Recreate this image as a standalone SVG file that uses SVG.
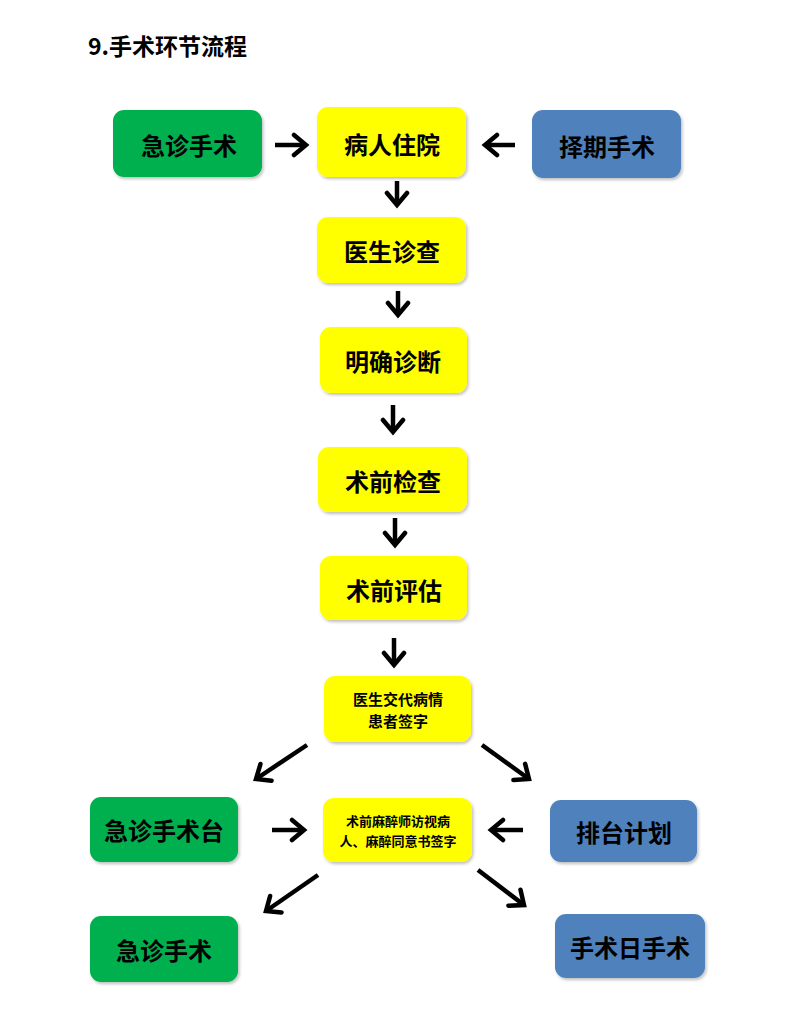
<svg xmlns="http://www.w3.org/2000/svg" width="800" height="1018" viewBox="0 0 800 1018">
<style>
.t{font-family:"Noto Sans CJK SC","Liberation Sans",sans-serif;font-weight:700;fill:#000;text-anchor:middle;dominant-baseline:central}
.big{font-size:24px}
.mid{font-size:15px}
.sm{font-size:13px}
.g{fill:#00B050}
.y{fill:#FFFF00}
.b{fill:#4F81BD}
.box{filter:url(#sh)}
.arr{stroke:#000;stroke-width:4.5;fill:none;marker-end:url(#ah)}
</style>
<defs>
<filter id="sh" x="-10%" y="-10%" width="130%" height="130%">
<feDropShadow dx="1.5" dy="2" stdDeviation="1.5" flood-color="#000" flood-opacity="0.25"/>
</filter>
<marker id="ah" markerUnits="userSpaceOnUse" markerWidth="22" markerHeight="26" viewBox="0 0 22 26" refX="15" refY="13" orient="auto">
<path d="M3,3 L15,13 L3,23" fill="none" stroke="#000" stroke-width="4.5" stroke-linecap="round" stroke-linejoin="miter"/>
</marker>
</defs>
<rect width="800" height="1018" fill="#fff"/>
<text x="88" y="45" style="font-family:'Noto Sans CJK SC','Liberation Sans',sans-serif;font-weight:700;font-size:23px;dominant-baseline:central">9.手术环节流程</text>

<g id="connectors">
<line class="arr" x1="275" y1="145" x2="306" y2="145"/>
<line class="arr" x1="515" y1="145" x2="485" y2="145"/>
<line class="arr" x1="397" y1="181" x2="397" y2="205"/>
<line class="arr" x1="398" y1="291" x2="398" y2="315"/>
<line class="arr" x1="393" y1="405" x2="393" y2="432"/>
<line class="arr" x1="395" y1="518" x2="395" y2="545"/>
<line class="arr" x1="394" y1="638" x2="394" y2="665"/>
<line class="arr" x1="307" y1="745" x2="256" y2="779"/>
<line class="arr" x1="482" y1="745" x2="529" y2="779"/>
<line class="arr" x1="272" y1="830" x2="304" y2="830"/>
<line class="arr" x1="523" y1="830" x2="491" y2="830"/>
<line class="arr" x1="318" y1="875" x2="266" y2="911"/>
<line class="arr" x1="478" y1="870" x2="524" y2="905"/>
</g>

<g id="n_jizhen1"><rect class="box g" x="113" y="110" width="149" height="67" rx="11"/><text class="t big" x="189" y="144">急诊手术</text></g>
<g id="n_zhuyuan"><rect class="box y" x="317" y="107" width="149" height="70" rx="11"/><text class="t big" x="392" y="143">病人住院</text></g>
<g id="n_zeqi"><rect class="box b" x="532" y="110" width="149" height="68" rx="11"/><text class="t big" x="607" y="145">择期手术</text></g>
<g id="n_zhencha"><rect class="box y" x="317" y="217" width="149" height="66" rx="11"/><text class="t big" x="392" y="250">医生诊查</text></g>
<g id="n_zhenduan"><rect class="box y" x="320" y="327" width="147" height="66" rx="11"/><text class="t big" x="393" y="360">明确诊断</text></g>
<g id="n_jiancha"><rect class="box y" x="318" y="447" width="149" height="65" rx="11"/><text class="t big" x="393" y="480">术前检查</text></g>
<g id="n_pinggu"><rect class="box y" x="320" y="556" width="147" height="64" rx="11"/><text class="t big" x="394" y="589">术前评估</text></g>
<g id="n_jiaodai"><rect class="box y" x="324" y="676" width="147" height="66" rx="11"/><text class="t mid" x="398" y="698">医生交代病情</text><text class="t mid" x="398" y="720">患者签字</text></g>
<g id="n_jizhentai"><rect class="box g" x="90" y="797" width="148" height="65" rx="11"/><text class="t big" x="164" y="829">急诊手术台</text></g>
<g id="n_mazui"><rect class="box y" x="323" y="798" width="149" height="64" rx="11"/><text class="t sm" x="398" y="820">术前麻醉师访视病</text><text class="t sm" x="398" y="840">人、麻醉同意书签字</text></g>
<g id="n_paitai"><rect class="box b" x="550" y="800" width="147" height="62" rx="11"/><text class="t big" x="624" y="831">排台计划</text></g>
<g id="n_jizhen2"><rect class="box g" x="90" y="916" width="148" height="66" rx="11"/><text class="t big" x="164" y="949">急诊手术</text></g>
<g id="n_shoushuri"><rect class="box b" x="555" y="914" width="150" height="64" rx="11"/><text class="t big" x="630" y="946">手术日手术</text></g>
</svg>
